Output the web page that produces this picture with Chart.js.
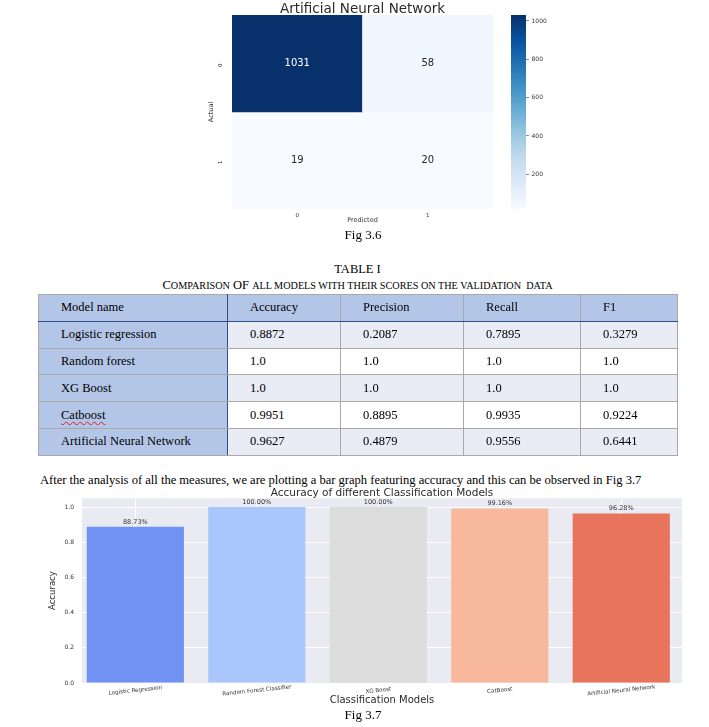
<!DOCTYPE html>
<html><head><meta charset="utf-8">
<script src="https://cdn.jsdelivr.net/npm/chart.js@4.4.0/dist/chart.umd.min.js"></script>
<style>
html,body{margin:0;padding:0;background:#fff;}
body{width:709px;height:727px;position:relative;overflow:hidden;font-family:"Liberation Serif","Times New Roman",serif;color:#000;}
.abs{position:absolute;}
canvas{display:block;}
.cap{text-align:center;white-space:nowrap;}
.sc{font-size:10.2px;}
#tbl{position:absolute;left:38px;top:294px;width:639px;border-collapse:collapse;table-layout:fixed;font-size:12.5px;border:1.5px solid #1c1c1c;}
#tbl td{padding:0 0 0 22px;border:1px solid #a9a9a9;vertical-align:middle;white-space:nowrap;overflow:hidden;}
#tbl tr{height:26.8px;}
#tbl tr.head td{background:#b4c6e7;border-bottom:1px solid #2f4f86;}
#tbl td.first{background:#b4c6e7;border-right:1px solid #2f4f86;}
#tbl tr.odd td{background:#e9ebf5;}
#tbl tr.odd td.first,#tbl tr.even td.first{background:#b4c6e7;}
#tbl tr.even td{background:#fff;}
.spell{text-decoration:underline wavy #e02020;text-decoration-thickness:1px;text-underline-offset:2px;}
</style>
</head><body>
<div class="abs" style="left:190px;top:0;"><canvas id="heat" width="345" height="232"></canvas></div>
<div class="abs" style="left:505px;top:0;"><canvas id="cbar" width="50" height="232"></canvas></div>
<div class="abs cap" style="left:300px;width:126px;top:226px;line-height:18px;font-size:13px;">Fig 3.6</div>
<div class="abs cap" style="left:38px;width:639px;top:261px;line-height:16px;font-size:12.5px;">TABLE I</div>
<div class="abs cap" style="left:38px;width:639px;top:278px;line-height:14px;font-size:12.5px;">C<span class="sc">OMPARISON</span> OF <span class="sc">ALL MODELS WITH THEIR SCORES ON THE VALIDATION&nbsp; DATA</span></div>
<table id="tbl"></table>
<div class="abs" style="left:40px;top:471px;line-height:18px;font-size:12.55px;white-space:nowrap;">After the analysis of all the measures, we are plotting a bar graph featuring accuracy and this can be observed in Fig 3.7</div>
<div class="abs" style="left:40px;top:486px;"><canvas id="bars" width="660" height="224"></canvas></div>
<div class="abs cap" style="left:300px;width:126px;top:706px;line-height:18px;font-size:13px;">Fig 3.7</div>
<script>
// ---------- data ----------
const predictedLabels = ['0', '1'];
const actualLabels = ['0', '1'];
const confusion = [[1031, 58], [19, 20]];
const colorbarTicks = [200, 400, 600, 800, 1000];

const tableHeader = ['Model name', 'Accuracy', 'Precision', 'Recall', 'F1'];
const tableModels = ['Logistic regression', 'Random forest', 'XG Boost', 'Catboost', 'Artificial Neural Network'];
const tableAccuracy = ['0.8872', '1.0', '1.0', '0.9951', '0.9627'];
const tablePrecision = ['0.2087', '1.0', '1.0', '0.8895', '0.4879'];
const tableRecall = ['0.7895', '1.0', '1.0', '0.9935', '0.9556'];
const tableF1 = ['0.3279', '1.0', '1.0', '0.9224', '0.6441'];

const modelNames = ['Logistic Regression', 'Random Forest Classifier', 'XG Boost', 'CatBoost', 'Artificial Neural Network'];
const accuracyValues = [0.8873, 1.0, 1.0, 0.9916, 0.9628];
const accuracyTicks = [0, 0.2, 0.4, 0.6, 0.8, 1.0];
const barColors = ['#6f92f3', '#aac7fd', '#dcdcdc', '#f7b89c', '#e7745b'];

// ---------- table ----------
(function buildTable(){
  const t = document.getElementById('tbl');
  const widths = [189, 113, 123, 117, 97];
  const cg = document.createElement('colgroup');
  widths.forEach(w => { const c = document.createElement('col'); c.style.width = w + 'px'; cg.appendChild(c); });
  t.appendChild(cg);
  const head = document.createElement('tr'); head.className = 'head';
  tableHeader.forEach((h, i) => { const td = document.createElement('td'); td.textContent = h; if (i === 0) td.className = 'first'; head.appendChild(td); });
  t.appendChild(head);
  tableModels.forEach((m, r) => {
    const tr = document.createElement('tr'); tr.className = (r % 2 === 0) ? 'odd' : 'even';
    const cells = [m, tableAccuracy[r], tablePrecision[r], tableRecall[r], tableF1[r]];
    cells.forEach((v, i) => {
      const td = document.createElement('td');
      if (i === 0) { td.className = 'first'; if (m === 'Catboost') { const s = document.createElement('span'); s.className = 'spell'; s.textContent = v; td.appendChild(s); } else td.textContent = v; }
      else td.textContent = v;
      tr.appendChild(td);
    });
    t.appendChild(tr);
  });
})();

// ---------- helpers ----------
Chart.defaults.font.family = '"DejaVu Sans", sans-serif';
const BLUES = ['#f7fbff','#deebf7','#c6dbef','#9ecae1','#6baed6','#4292c6','#2171b5','#08519c','#08306b'];
function hexRgb(h){ return [parseInt(h.slice(1,3),16), parseInt(h.slice(3,5),16), parseInt(h.slice(5,7),16)]; }
function blues(t){
  t = Math.max(0, Math.min(1, t));
  const p = t * 8, i = Math.min(7, Math.floor(p)), f = p - i;
  const a = hexRgb(BLUES[i]), b = hexRgb(BLUES[i+1]);
  return 'rgb(' + a.map((x, k) => Math.round(x + (b[k] - x) * f)).join(',') + ')';
}
const flat = confusion.flat();
const vmin = Math.min(...flat), vmax = Math.max(...flat);

// ---------- heatmap ----------
const heatLabels = {
  id: 'heatLabels',
  afterDatasetsDraw(chart){
    const ctx = chart.ctx; ctx.save();
    ctx.font = '10px "DejaVu Sans"'; ctx.textAlign = 'center'; ctx.textBaseline = 'middle';
    chart.data.datasets.forEach((ds, r) => {
      chart.getDatasetMeta(r).data.forEach((el, c) => {
        const v = confusion[r][c]; const t = (v - vmin) / (vmax - vmin);
        ctx.fillStyle = t > 0.5 ? '#ffffff' : '#262626';
        ctx.fillText(String(v), el.x, (el.y + el.base) / 2);
      });
    });
    ctx.restore();
  }
};
new Chart(document.getElementById('heat'), {
  type: 'bar',
  data: {
    labels: predictedLabels,
    datasets: actualLabels.map((lab, r) => ({
      label: 'Actual ' + lab,
      data: predictedLabels.map(() => [r, r + 1]),
      backgroundColor: confusion[r].map(v => blues((v - vmin) / (vmax - vmin))),
      borderWidth: 0, barPercentage: 1, categoryPercentage: 1, grouped: false
    }))
  },
  options: {
    responsive: false, animation: false,
    layout: { padding: { left: 0, right: 42, top: 0, bottom: 0 } },
    plugins: {
      legend: { display: false }, tooltip: { enabled: false },
      title: { display: true, text: 'Artificial Neural Network', fullSize: false, color: '#2b2b2b',
        font: { size: 13.5, weight: 'normal', lineHeight: 1 }, padding: { top: 2.25, bottom: -0.75 } }
    },
    scales: {
      x: {
        grid: { display: false, drawTicks: false }, border: { display: false },
        ticks: { color: '#333', font: { size: 5.5 }, padding: 3 },
        title: { display: true, text: 'Predicted', color: '#333', font: { size: 6.5, lineHeight: 1.2 }, padding: { top: 0, bottom: 7.4 } },
        afterFit(s){ s.height = 23; }
      },
      y: {
        min: 0, max: 2, reverse: true,
        grid: { display: false, drawTicks: false }, border: { display: false },
        afterBuildTicks(s){ s.ticks = actualLabels.map((_, i) => ({ value: i + 0.5 })); },
        ticks: { color: '#333', font: { size: 5.5 }, padding: 11, minRotation: 90, maxRotation: 90,
          callback: v => actualLabels[Math.floor(v)] },
        title: { display: true, text: 'Actual', color: '#333', font: { size: 6.5, lineHeight: 1.2 }, padding: { top: 17.8, bottom: 0 } },
        afterFit(s){ s.width = 42; }
      }
    }
  },
  plugins: [heatLabels]
});

// ---------- colorbar ----------
new Chart(document.getElementById('cbar'), {
  type: 'bar',
  data: {
    labels: [''],
    datasets: [{
      data: [[vmin, vmax]],
      backgroundColor: (c) => {
        const a = c.chart.chartArea; if (!a) return BLUES[4];
        const g = c.chart.ctx.createLinearGradient(0, a.bottom, 0, a.top);
        BLUES.forEach((col, i) => g.addColorStop(i / (BLUES.length - 1), col));
        return g;
      },
      borderWidth: 0, barPercentage: 1, categoryPercentage: 1
    }]
  },
  options: {
    responsive: false, animation: false,
    layout: { padding: { left: 6, top: 15, bottom: 23, right: 0 } },
    plugins: { legend: { display: false }, tooltip: { enabled: false } },
    scales: {
      x: { display: false },
      y: {
        position: 'right', min: vmin, max: vmax,
        afterBuildTicks(s){ s.ticks = colorbarTicks.map(v => ({ value: v })); },
        grid: { drawOnChartArea: false, drawTicks: true, tickLength: 3, color: '#444', lineWidth: 0.6 },
        border: { display: false },
        ticks: { color: '#333', font: { size: 6 }, padding: 2.5, callback: v => String(v) },
        afterFit(s){ s.width = 29; }
      }
    }
  }
});

// ---------- bar chart ----------
const plotBg = {
  id: 'plotBg',
  beforeDraw(chart){
    const a = chart.chartArea, ctx = chart.ctx;
    ctx.save(); ctx.fillStyle = '#eaeaf2'; ctx.fillRect(a.left, a.top, a.width, a.height); ctx.restore();
  }
};
const barValueLabels = {
  id: 'barValueLabels',
  afterDatasetsDraw(chart){
    const ctx = chart.ctx; ctx.save();
    ctx.font = '6.5px "DejaVu Sans"'; ctx.fillStyle = '#333'; ctx.textAlign = 'center'; ctx.textBaseline = 'middle';
    chart.getDatasetMeta(0).data.forEach((el, i) => {
      ctx.fillText((accuracyValues[i] * 100).toFixed(2) + '%', el.x, el.y - 5);
    });
    ctx.restore();
  }
};
const slantedXLabels = {
  id: 'slantedXLabels',
  afterDraw(chart){
    const ctx = chart.ctx, xs = chart.scales.x, a = chart.chartArea;
    ctx.save();
    ctx.font = '5.6px "DejaVu Sans"'; ctx.fillStyle = '#333'; ctx.textAlign = 'center'; ctx.textBaseline = 'middle';
    modelNames.forEach((n, i) => {
      ctx.save();
      ctx.translate(xs.getPixelForValue(i), a.bottom + 7.5);
      ctx.rotate(-6 * Math.PI / 180);
      ctx.fillText(n, 0, 0);
      ctx.restore();
    });
    ctx.restore();
  }
};
new Chart(document.getElementById('bars'), {
  type: 'bar',
  data: {
    datasets: [{
      label: 'Accuracy',
      data: accuracyValues.map((v, i) => ({ x: i, y: v })),
      backgroundColor: barColors, borderWidth: 0,
      barPercentage: 0.8, categoryPercentage: 1
    }]
  },
  options: {
    responsive: false, animation: false,
    layout: { padding: { left: 0, right: 18, top: 0, bottom: 0 } },
    plugins: {
      legend: { display: false }, tooltip: { enabled: false },
      title: { display: true, text: 'Accuracy of different Classification Models', fullSize: false, color: '#2b2b2b',
        font: { size: 10.5, weight: 'normal', lineHeight: 1 }, padding: { top: 1.75, bottom: -0.05 } }
    },
    scales: {
      x: {
        type: 'linear', min: -0.439, max: 4.5, offset: false,
        afterBuildTicks(s){ s.ticks = modelNames.map((_, i) => ({ value: i })); },
        ticks: { display: false },
        grid: { color: '#ffffff', drawTicks: false, offset: false }, border: { display: false },
        title: { display: true, text: 'Classification Models', color: '#2b2b2b', font: { size: 10, lineHeight: 1.2 }, padding: { top: 0, bottom: 4 } },
        afterFit(s){ s.height = 27; }
      },
      y: {
        min: 0, max: 1.05,
        afterBuildTicks(s){ s.ticks = accuracyTicks.map(v => ({ value: v })); },
        ticks: { color: '#333', font: { size: 6 }, padding: 8, callback: v => Number(v).toFixed(1) },
        grid: { color: '#ffffff', lineWidth: 1, drawTicks: false }, border: { display: false },
        title: { display: true, text: 'Accuracy', color: '#2b2b2b', font: { size: 8.5, lineHeight: 1.2 }, padding: { top: 7.9, bottom: 0 } },
        afterFit(s){ s.width = 42; }
      }
    }
  },
  plugins: [plotBg, barValueLabels, slantedXLabels]
});
</script>
</body></html>
